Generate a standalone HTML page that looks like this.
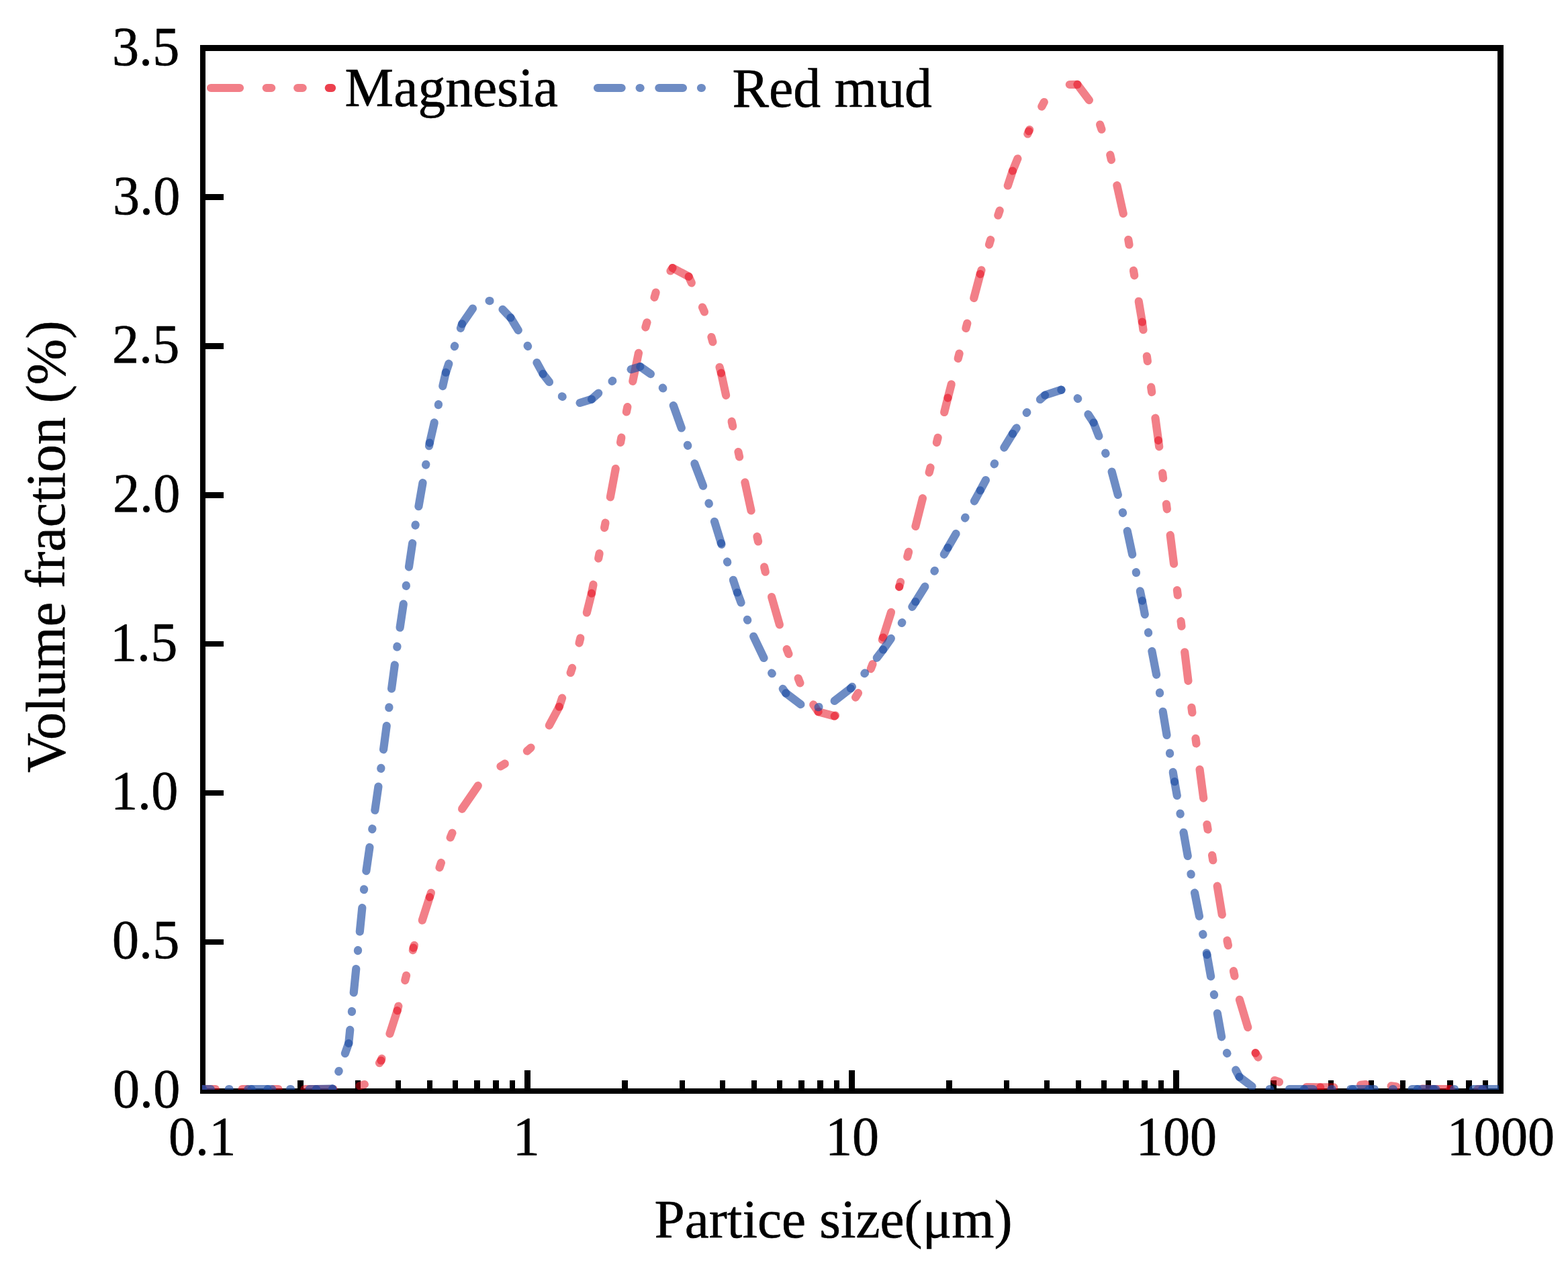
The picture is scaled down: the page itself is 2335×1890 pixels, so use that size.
<!DOCTYPE html>
<html lang="en"><head><meta charset="utf-8"><title>Particle size distribution</title>
<style>html,body{margin:0;padding:0;background:#fff;}svg{display:block;}text{font-family:"Liberation Serif","Times New Roman",serif;fill:#000;stroke:#000;stroke-width:0.6px;stroke-linejoin:round;}</style></head><body>
<svg xmlns="http://www.w3.org/2000/svg" width="2335" height="1890" viewBox="0 0 2335 1890">
<rect x="0" y="0" width="2335" height="1890" fill="#ffffff"/>
<g fill="#000" shape-rendering="crispEdges">
<rect x="298" y="67" width="1940.8000000000002" height="8.8"/>
<rect x="298" y="1621" width="1940.8000000000002" height="7.7"/>
<rect x="298" y="67" width="7.8" height="1561.7"/>
<rect x="2230" y="67" width="8.8" height="1561.7"/>
<rect x="443" y="1609" width="9" height="13"/>
<rect x="529" y="1609" width="8" height="13"/>
<rect x="589" y="1609" width="8" height="13"/>
<rect x="636" y="1609" width="8" height="13"/>
<rect x="674" y="1609" width="8" height="13"/>
<rect x="706" y="1609" width="9" height="13"/>
<rect x="734" y="1609" width="9" height="13"/>
<rect x="759" y="1609" width="8" height="13"/>
<rect x="781" y="1594" width="9" height="28"/>
<rect x="926" y="1609" width="9" height="13"/>
<rect x="1012" y="1609" width="8" height="13"/>
<rect x="1072" y="1609" width="8" height="13"/>
<rect x="1119" y="1609" width="8" height="13"/>
<rect x="1157" y="1609" width="8" height="13"/>
<rect x="1189" y="1609" width="9" height="13"/>
<rect x="1217" y="1609" width="9" height="13"/>
<rect x="1242" y="1609" width="8" height="13"/>
<rect x="1264" y="1594" width="9" height="28"/>
<rect x="1409" y="1609" width="9" height="13"/>
<rect x="1495" y="1609" width="8" height="13"/>
<rect x="1555" y="1609" width="8" height="13"/>
<rect x="1602" y="1609" width="8" height="13"/>
<rect x="1640" y="1609" width="8" height="13"/>
<rect x="1672" y="1609" width="9" height="13"/>
<rect x="1700" y="1609" width="9" height="13"/>
<rect x="1725" y="1609" width="8" height="13"/>
<rect x="1747" y="1594" width="9" height="28"/>
<rect x="1892" y="1609" width="9" height="13"/>
<rect x="1978" y="1609" width="8" height="13"/>
<rect x="2038" y="1609" width="8" height="13"/>
<rect x="2085" y="1609" width="8" height="13"/>
<rect x="2123" y="1609" width="8" height="13"/>
<rect x="2155" y="1609" width="9" height="13"/>
<rect x="2183" y="1609" width="9" height="13"/>
<rect x="2208" y="1609" width="8" height="13"/>
<rect x="305" y="289" width="28" height="9"/>
<rect x="305" y="511" width="28" height="9"/>
<rect x="305" y="733" width="28" height="9"/>
<rect x="305" y="955" width="28" height="8"/>
<rect x="305" y="1177" width="28" height="8"/>
<rect x="305" y="1399" width="28" height="8"/>
</g>
<text transform="translate(167.00,96.90) scale(1,1.017)" font-size="80.2">3.5</text>
<text transform="translate(168.00,318.60) scale(1,1.017)" font-size="80.2">3.0</text>
<text transform="translate(167.00,540.30) scale(1,1.017)" font-size="80.2">2.5</text>
<text transform="translate(168.00,762.00) scale(1,1.017)" font-size="80.2">2.0</text>
<text transform="translate(164.00,983.70) scale(1,1.017)" font-size="80.2">1.5</text>
<text transform="translate(165.00,1205.40) scale(1,1.017)" font-size="80.2">1.0</text>
<text transform="translate(167.00,1427.10) scale(1,1.017)" font-size="80.2">0.5</text>
<text transform="translate(168.00,1648.80) scale(1,1.017)" font-size="80.2">0.0</text>
<text transform="translate(251.00,1719.8) scale(1,1.017)" font-size="80.2">0.1</text>
<text transform="translate(763.70,1719.8) scale(1,1.017)" font-size="80.2">1</text>
<text transform="translate(1229.00,1719.8) scale(1,1.017)" font-size="80.2">10</text>
<text transform="translate(1691.80,1719.8) scale(1,1.017)" font-size="80.2">100</text>
<text transform="translate(2154.70,1719.8) scale(1,1.017)" font-size="80.2">1000</text>
<text x="974.56" y="1843" font-size="81.23">Partice size(μm)</text>
<text transform="translate(96,1150.8) rotate(-90)" font-size="82.1">Volume fraction (%)</text>
<text x="513.55" y="158.0" font-size="81.66">Magnesia</text>
<text x="1090.55" y="159" font-size="81.72">Red mud</text>
<defs><clipPath id="pc"><rect x="301" y="60" width="1931" height="1562.9"/></clipPath></defs>
<g clip-path="url(#pc)"><g fill="none" stroke="#e60012" stroke-opacity="0.5" stroke-width="12.2" stroke-linecap="round" stroke-dasharray="43 39.7 7.5 39 7.5 39">
<path d="M278.10 1622.00L302.22 1622.00" stroke-dashoffset="0.20"/>
<path d="M302.22 1622.00L326.33 1622.00" stroke-dashoffset="24.31"/>
<path d="M326.33 1622.00L350.45 1622.00" stroke-dashoffset="48.43"/>
<path d="M350.45 1622.00L374.56 1622.00" stroke-dashoffset="72.54"/>
<path d="M374.56 1622.00L398.68 1622.00" stroke-dashoffset="96.66"/>
<path d="M398.68 1622.00L422.79 1622.00" stroke-dashoffset="120.77"/>
<path d="M422.79 1622.00L446.90 1622.00" stroke-dashoffset="144.89"/>
<path d="M446.90 1622.00L471.02 1622.00" stroke-dashoffset="169.00"/>
<path d="M471.02 1622.00L495.13 1622.00" stroke-dashoffset="17.42"/>
<path d="M495.13 1622.00L519.25 1622.00" stroke-dashoffset="41.53"/>
<path d="M519.25 1622.00L543.37 1615.00" stroke-dashoffset="65.65"/>
<path d="M543.37 1615.00L567.48 1579.50" stroke-dashoffset="90.76"/>
<path d="M567.48 1579.50L591.60 1505.20" stroke-dashoffset="133.68"/>
<path d="M591.60 1505.20L615.71 1411.60" stroke-dashoffset="36.09"/>
<path d="M615.71 1411.60L639.83 1336.10" stroke-dashoffset="132.75"/>
<path d="M639.83 1336.10L663.94 1263.80" stroke-dashoffset="36.30"/>
<path d="M663.94 1263.80L688.06 1204.80" stroke-dashoffset="111.56"/>
<path d="M688.06 1204.80L712.17 1169.70" stroke-dashoffset="1.01"/>
<path d="M712.17 1169.70L736.28 1147.00" stroke-dashoffset="43.60"/>
<path d="M736.28 1147.00L760.40 1132.20" stroke-dashoffset="71.96"/>
<path d="M760.40 1132.20L784.51 1118.80" stroke-dashoffset="101.21"/>
<path d="M784.51 1118.80L808.63 1097.80" stroke-dashoffset="128.80"/>
<path d="M808.63 1097.80L832.75 1052.60" stroke-dashoffset="156.08"/>
<path d="M832.75 1052.60L856.86 980.40" stroke-dashoffset="29.35"/>
<path d="M856.86 980.40L880.98 883.70" stroke-dashoffset="105.71"/>
<path d="M880.98 883.70L905.09 760.50" stroke-dashoffset="29.67"/>
<path d="M905.09 760.50L929.20 631.20" stroke-dashoffset="155.21"/>
<path d="M929.20 631.20L953.32 514.30" stroke-dashoffset="111.04"/>
<path d="M953.32 514.30L977.43 433.00" stroke-dashoffset="54.70"/>
<path d="M977.43 433.00L1001.55 399.10" stroke-dashoffset="139.50"/>
<path d="M1001.55 399.10L1025.66 411.90" stroke-dashoffset="5.41"/>
<path d="M1025.66 411.90L1049.78 466.20" stroke-dashoffset="32.71"/>
<path d="M1049.78 466.20L1073.89 555.60" stroke-dashoffset="92.12"/>
<path d="M1073.89 555.60L1098.01 666.30" stroke-dashoffset="9.02"/>
<path d="M1098.01 666.30L1122.12 776.80" stroke-dashoffset="122.31"/>
<path d="M1122.12 776.80L1146.24 879.20" stroke-dashoffset="59.71"/>
<path d="M1146.24 879.20L1170.36 963.60" stroke-dashoffset="165.42"/>
<path d="M1170.36 963.60L1194.47 1025.10" stroke-dashoffset="79.06"/>
<path d="M1194.47 1025.10L1218.59 1060.10" stroke-dashoffset="146.15"/>
<path d="M1218.59 1060.10L1242.70 1066.50" stroke-dashoffset="14.68"/>
<path d="M1242.70 1066.50L1266.82 1050.40" stroke-dashoffset="41.36"/>
<path d="M1266.82 1050.40L1290.93 1011.00" stroke-dashoffset="68.86"/>
<path d="M1290.93 1011.00L1315.05 949.50" stroke-dashoffset="113.14"/>
<path d="M1315.05 949.50L1339.16 873.80" stroke-dashoffset="3.55"/>
<path d="M1339.16 873.80L1363.28 784.30" stroke-dashoffset="83.00"/>
<path d="M1363.28 784.30L1387.39 689.00" stroke-dashoffset="175.30"/>
<path d="M1387.39 689.00L1411.51 592.60" stroke-dashoffset="98.38"/>
<path d="M1411.51 592.60L1435.62 499.40" stroke-dashoffset="22.05"/>
<path d="M1435.62 499.40L1459.74 408.10" stroke-dashoffset="118.32"/>
<path d="M1459.74 408.10L1483.85 328.30" stroke-dashoffset="37.06"/>
<path d="M1483.85 328.30L1507.97 254.50" stroke-dashoffset="121.21"/>
<path d="M1507.97 254.50L1532.08 195.30" stroke-dashoffset="23.32"/>
<path d="M1532.08 195.30L1556.20 149.30" stroke-dashoffset="87.81"/>
<path d="M1556.20 149.30L1580.31 126.10" stroke-dashoffset="137.00"/>
<path d="M1580.31 126.10L1604.42 125.90" stroke-dashoffset="163.21"/>
<path d="M1604.42 125.90L1628.54 158.00" stroke-dashoffset="13.93"/>
<path d="M1628.54 158.00L1652.65 227.80" stroke-dashoffset="53.55"/>
<path d="M1652.65 227.80L1676.77 336.20" stroke-dashoffset="126.22"/>
<path d="M1676.77 336.20L1700.88 479.60" stroke-dashoffset="61.57"/>
<path d="M1700.88 479.60L1725.00 655.90" stroke-dashoffset="31.28"/>
<path d="M1725.00 655.90L1749.11 848.00" stroke-dashoffset="33.52"/>
<path d="M1749.11 848.00L1773.23 1045.00" stroke-dashoffset="51.43"/>
<path d="M1773.23 1045.00L1797.34 1227.60" stroke-dashoffset="73.81"/>
<path d="M1797.34 1227.60L1821.46 1372.10" stroke-dashoffset="82.30"/>
<path d="M1821.46 1372.10L1845.57 1487.70" stroke-dashoffset="53.48"/>
<path d="M1845.57 1487.70L1869.69 1568.40" stroke-dashoffset="174.47"/>
<path d="M1869.69 1568.40L1893.80 1607.50" stroke-dashoffset="82.86"/>
<path d="M1893.80 1607.50L1917.92 1616.20" stroke-dashoffset="124.75"/>
<path d="M1917.92 1616.20L1942.03 1619.00" stroke-dashoffset="149.18"/>
<path d="M1942.03 1619.00L1966.15 1619.30" stroke-dashoffset="172.24"/>
<path d="M1966.15 1619.30L1990.26 1619.50" stroke-dashoffset="22.76"/>
<path d="M1990.26 1619.50L2014.38 1617.00" stroke-dashoffset="46.72"/>
<path d="M2014.38 1617.00L2038.49 1614.50" stroke-dashoffset="70.81"/>
<path d="M2038.49 1614.50L2062.61 1616.50" stroke-dashoffset="95.47"/>
<path d="M2062.61 1616.50L2086.72 1619.00" stroke-dashoffset="120.08"/>
<path d="M2086.72 1619.00L2110.84 1621.50" stroke-dashoffset="144.32"/>
<path d="M2110.84 1621.50L2134.95 1622.00" stroke-dashoffset="168.57"/>
<path d="M2134.95 1622.00L2159.07 1622.00" stroke-dashoffset="16.99"/>
<path d="M2159.07 1622.00L2183.18 1622.00" stroke-dashoffset="41.10"/>
<path d="M2183.18 1622.00L2207.30 1622.00" stroke-dashoffset="65.22"/>
<path d="M2207.30 1622.00L2231.41 1622.00" stroke-dashoffset="89.33"/>
</g></g>
<g clip-path="url(#pc)"><g fill="none" stroke="#204ea4" stroke-opacity="0.65" stroke-width="12.2" stroke-linecap="round" stroke-dasharray="35.6 27 1 27.75">
<path d="M278.10 1622.00L302.22 1622.00" stroke-dashoffset="91.34"/>
<path d="M302.22 1622.00L326.33 1622.00" stroke-dashoffset="24.10"/>
<path d="M326.33 1622.00L350.45 1622.00" stroke-dashoffset="48.22"/>
<path d="M350.45 1622.00L374.56 1622.00" stroke-dashoffset="72.33"/>
<path d="M374.56 1622.00L398.68 1622.00" stroke-dashoffset="5.10"/>
<path d="M398.68 1622.00L422.79 1622.00" stroke-dashoffset="29.21"/>
<path d="M422.79 1622.00L446.90 1622.00" stroke-dashoffset="53.33"/>
<path d="M446.90 1622.00L471.02 1622.00" stroke-dashoffset="77.44"/>
<path d="M471.02 1622.00L495.13 1621.70" stroke-dashoffset="10.21"/>
<path d="M495.13 1621.70L519.25 1553.90" stroke-dashoffset="35.30"/>
<path d="M519.25 1553.90L543.37 1311.30" stroke-dashoffset="15.51"/>
<path d="M543.37 1311.30L567.48 1143.20" stroke-dashoffset="77.08"/>
<path d="M567.48 1143.20L591.60 961.60" stroke-dashoffset="64.20"/>
<path d="M591.60 961.60L615.71 798.70" stroke-dashoffset="64.22"/>
<path d="M615.71 798.70L639.83 659.60" stroke-dashoffset="46.20"/>
<path d="M639.83 659.60L663.94 554.70" stroke-dashoffset="4.67"/>
<path d="M663.94 554.70L688.06 482.40" stroke-dashoffset="21.92"/>
<path d="M688.06 482.40L712.17 447.80" stroke-dashoffset="7.78"/>
<path d="M712.17 447.80L736.28 448.20" stroke-dashoffset="46.27"/>
<path d="M736.28 448.20L760.40 473.20" stroke-dashoffset="73.73"/>
<path d="M760.40 473.20L784.51 512.90" stroke-dashoffset="13.72"/>
<path d="M784.51 512.90L808.63 556.90" stroke-dashoffset="60.24"/>
<path d="M808.63 556.90L832.75 588.00" stroke-dashoffset="20.30"/>
<path d="M832.75 588.00L856.86 602.10" stroke-dashoffset="57.94"/>
<path d="M856.86 602.10L880.98 594.60" stroke-dashoffset="84.29"/>
<path d="M880.98 594.60L905.09 573.20" stroke-dashoffset="22.00"/>
<path d="M905.09 573.20L929.20 553.10" stroke-dashoffset="54.21"/>
<path d="M929.20 553.10L953.32 546.10" stroke-dashoffset="80.50"/>
<path d="M953.32 546.10L977.43 563.00" stroke-dashoffset="16.50"/>
<path d="M977.43 563.00L1001.55 600.50" stroke-dashoffset="45.31"/>
<path d="M1001.55 600.50L1025.66 667.80" stroke-dashoffset="87.72"/>
<path d="M1025.66 667.80L1049.78 730.80" stroke-dashoffset="67.08"/>
<path d="M1049.78 730.80L1073.89 809.00" stroke-dashoffset="43.19"/>
<path d="M1073.89 809.00L1098.01 882.50" stroke-dashoffset="33.67"/>
<path d="M1098.01 882.50L1122.12 947.80" stroke-dashoffset="19.67"/>
<path d="M1122.12 947.80L1146.24 998.30" stroke-dashoffset="91.27"/>
<path d="M1146.24 998.30L1170.36 1032.40" stroke-dashoffset="57.54"/>
<path d="M1170.36 1032.40L1194.47 1050.60" stroke-dashoffset="8.00"/>
<path d="M1194.47 1050.60L1218.59 1053.20" stroke-dashoffset="38.05"/>
<path d="M1218.59 1053.20L1242.70 1043.90" stroke-dashoffset="62.64"/>
<path d="M1242.70 1043.90L1266.82 1025.20" stroke-dashoffset="0.32"/>
<path d="M1266.82 1025.20L1290.93 999.20" stroke-dashoffset="32.43"/>
<path d="M1290.93 999.20L1315.05 967.60" stroke-dashoffset="66.94"/>
<path d="M1315.05 967.60L1339.16 933.60" stroke-dashoffset="15.14"/>
<path d="M1339.16 933.60L1363.28 896.20" stroke-dashoffset="55.89"/>
<path d="M1363.28 896.20L1387.39 857.70" stroke-dashoffset="9.09"/>
<path d="M1387.39 857.70L1411.51 815.70" stroke-dashoffset="54.52"/>
<path d="M1411.51 815.70L1435.62 774.10" stroke-dashoffset="11.60"/>
<path d="M1435.62 774.10L1459.74 730.40" stroke-dashoffset="59.69"/>
<path d="M1459.74 730.40L1483.85 685.20" stroke-dashoffset="18.25"/>
<path d="M1483.85 685.20L1507.97 646.00" stroke-dashoffset="69.48"/>
<path d="M1507.97 646.00L1532.08 609.90" stroke-dashoffset="25.24"/>
<path d="M1532.08 609.90L1556.20 588.50" stroke-dashoffset="68.80"/>
<path d="M1556.20 588.50L1580.31 580.60" stroke-dashoffset="9.92"/>
<path d="M1580.31 580.60L1604.42 592.80" stroke-dashoffset="35.17"/>
<path d="M1604.42 592.80L1628.54 629.50" stroke-dashoffset="62.20"/>
<path d="M1628.54 629.50L1652.65 691.30" stroke-dashoffset="14.16"/>
<path d="M1652.65 691.30L1676.77 781.60" stroke-dashoffset="79.69"/>
<path d="M1676.77 781.60L1700.88 894.70" stroke-dashoffset="81.80"/>
<path d="M1700.88 894.70L1725.00 1019.80" stroke-dashoffset="14.74"/>
<path d="M1725.00 1019.80L1749.11 1164.20" stroke-dashoffset="50.80"/>
<path d="M1749.11 1164.20L1773.23 1300.30" stroke-dashoffset="14.50"/>
<path d="M1773.23 1300.30L1797.34 1421.90" stroke-dashoffset="61.37"/>
<path d="M1797.34 1421.90L1821.46 1557.50" stroke-dashoffset="2.63"/>
<path d="M1821.46 1557.50L1845.57 1603.90" stroke-dashoffset="50.69"/>
<path d="M1845.57 1603.90L1869.69 1622.00" stroke-dashoffset="11.92"/>
<path d="M1869.69 1622.00L1893.80 1622.00" stroke-dashoffset="41.79"/>
<path d="M1893.80 1622.00L1917.92 1622.00" stroke-dashoffset="65.27"/>
<path d="M1917.92 1622.00L1942.03 1622.00" stroke-dashoffset="89.38"/>
<path d="M1942.03 1622.00L1966.15 1622.00" stroke-dashoffset="22.15"/>
<path d="M1966.15 1622.00L1990.26 1622.00" stroke-dashoffset="46.26"/>
<path d="M1990.26 1622.00L2014.38 1622.00" stroke-dashoffset="70.38"/>
<path d="M2014.38 1622.00L2038.49 1622.00" stroke-dashoffset="3.14"/>
<path d="M2038.49 1622.00L2062.61 1622.00" stroke-dashoffset="27.26"/>
<path d="M2062.61 1622.00L2086.72 1622.00" stroke-dashoffset="51.37"/>
<path d="M2086.72 1622.00L2110.84 1622.00" stroke-dashoffset="75.49"/>
<path d="M2110.84 1622.00L2134.95 1622.00" stroke-dashoffset="8.25"/>
<path d="M2134.95 1622.00L2159.07 1622.00" stroke-dashoffset="32.37"/>
<path d="M2159.07 1622.00L2183.18 1622.00" stroke-dashoffset="56.48"/>
<path d="M2183.18 1622.00L2207.30 1622.00" stroke-dashoffset="80.60"/>
<path d="M2207.30 1622.00L2231.41 1622.00" stroke-dashoffset="13.36"/>
</g></g>
<g fill="none" stroke-width="12.2" stroke-linecap="round">
<path d="M314 131H494" stroke="#e60012" stroke-opacity="0.5" stroke-dasharray="43 39.7 7.5 39 7.5 39"/>
<path d="M490 131H494" stroke="#e60012" stroke-opacity="0.5"/>
<path d="M890 131H1070" stroke="#204ea4" stroke-opacity="0.65" stroke-dasharray="35.6 27 1 27.75"/>
</g>
</svg></body></html>
